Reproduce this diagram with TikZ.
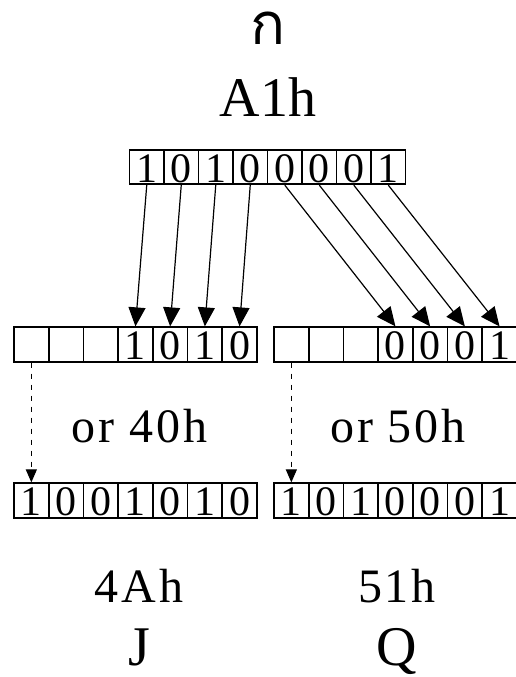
\documentclass[tikz,border=0pt]{standalone}
\usepackage{fontspec}
\setmainfont{Liberation Serif}
\newfontfamily\thaifont[Script=Thai]{Loma}
\newfontfamily\spacedfont[LetterSpace=6]{Liberation Serif}
\usetikzlibrary{arrows.meta}
\tikzset{
  cell/.style={draw, line width=1.7pt, minimum width=34.7pt, minimum height=34.5pt,
    inner sep=0pt, text height=30.5pt, text depth=0pt, font=\fontsize{42}{42}\selectfont},
  movearrow/.style={line width=1.2pt, -{Triangle[length=19pt,width=17pt]}},
  dasharrow/.style={line width=1.2pt, dash pattern=on 5pt off 6pt, -{Triangle[length=13pt,width=11pt]}},
  biglabel/.style={font=\fontsize{56}{56}\selectfont, anchor=base, inner sep=0pt},
  midlabel/.style={font=\spacedfont\fontsize{48}{48}\selectfont, anchor=base, inner sep=0pt},
}
\begin{document}
\begin{tikzpicture}[x=1pt,y=1pt]
\useasboundingbox (0,0) rectangle (515,677);
% top row
\foreach \b [count=\i] in {1,0,1,0,0,0,0,1}
  \node[cell] (t\i) at ({129.5+34.5*(\i-0.5)},510) {\b};
% middle rows
\foreach \b [count=\i] in {{},{},{},1,0,1,0}
  \node[cell] (ml\i) at ({14+34.7*(\i-0.5)},332.5) {\b};
\foreach \b [count=\i] in {{},{},{},0,0,0,1}
  \node[cell] (mr\i) at ({274+34.7*(\i-0.5)},332.5) {\b};
% bottom rows
\foreach \b [count=\i] in {1,0,0,1,0,1,0}
  \node[cell] (bl\i) at ({14+34.7*(\i-0.5)},176.5) {\b};
\foreach \b [count=\i] in {1,0,1,0,0,0,1}
  \node[cell] (br\i) at ({274+34.7*(\i-0.5)},176.5) {\b};
% arrows
\foreach \s/\d in {1/4,2/5,3/6,4/7}
  \draw[movearrow] (t\s.south) -- (ml\d.north);
\foreach \s/\d in {5/4,6/5,7/6,8/7}
  \draw[movearrow] (t\s.south) -- (mr\d.north);
\draw[dasharrow] (ml1.south) -- (bl1.north);
\draw[dasharrow] (mr1.south) -- (br1.north);
% labels
\node[biglabel, font=\thaifont\fontsize{58}{58}\selectfont] (thai) at (268,632) {ก};
\node[biglabel] (hexa) at (268,560) {A1h};
\node[midlabel] (orl) at (139.5,234) {or 40h};
\node[midlabel] (orr) at (398,234) {or 50h};
\node[midlabel] (hl) at (139,74) {4Ah};
\node[midlabel] (hr) at (397,74) {51h};
\node[biglabel] (cl) at (139,12) {J};
\node[biglabel] (cr) at (397,12) {Q};
\end{tikzpicture}
\end{document}
